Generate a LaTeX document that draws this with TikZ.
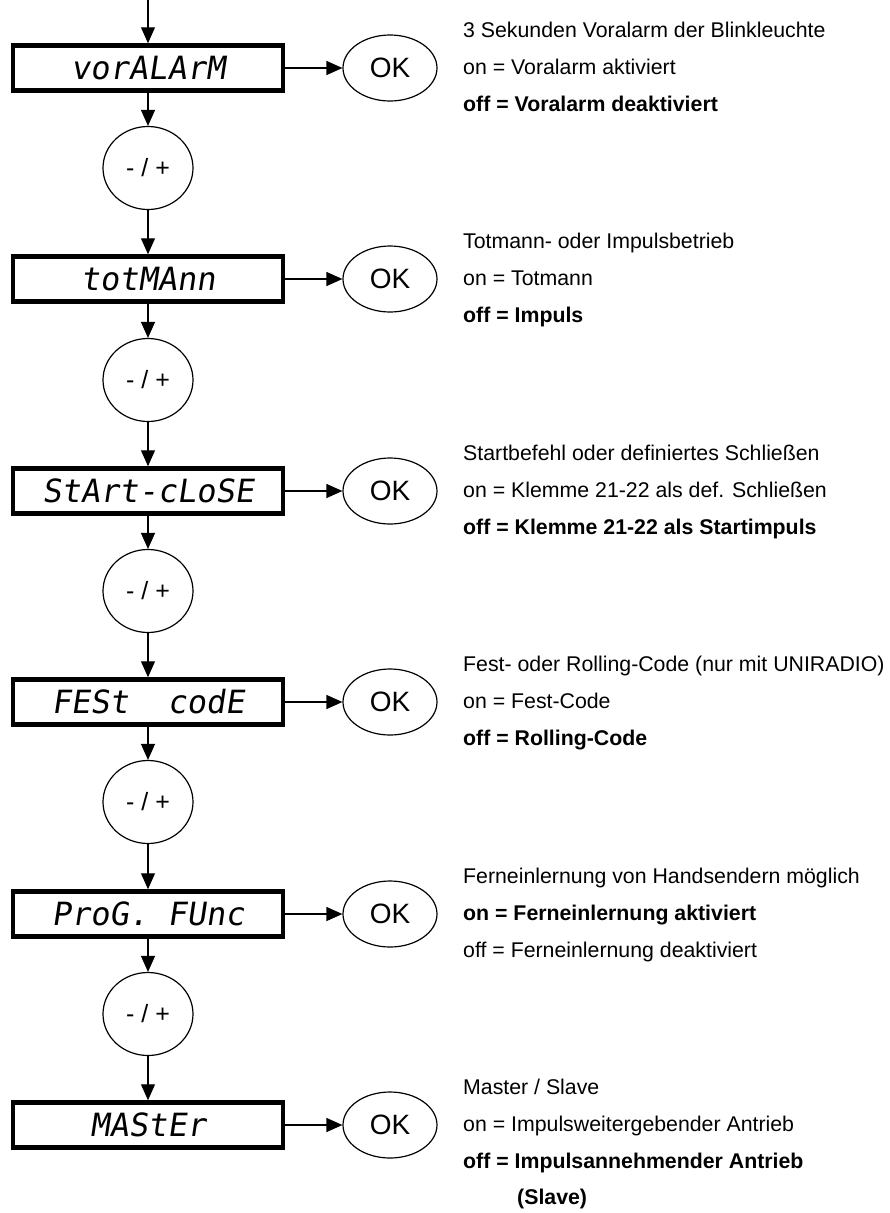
\documentclass[tikz,border=0pt]{standalone}
\usepackage{fontspec}
\setmainfont{Liberation Sans}
\newfontfamily\lcdfont[FakeSlant=0.15]{DejaVu Sans Mono}
\usetikzlibrary{arrows.meta, shapes.geometric}

\begin{document}
\begin{tikzpicture}[
    x=1pt, y=-1pt,
    arrow/.style={-{Triangle[length=16pt, width=14pt]}, line width=1.2pt},
    display/.style={draw, line width=4.5pt, minimum width=270pt, minimum height=45pt,
        inner sep=0pt, font={\lcdfont\fontsize{32}{32}\selectfont}},
    key/.style={draw, ellipse, line width=1.2pt, inner sep=0pt},
    okkey/.style={key, minimum width=94pt, minimum height=66pt,
        font={\fontsize{28}{30}\selectfont}},
    pmkey/.style={key, minimum width=90pt, minimum height=83pt,
        font={\fontsize{25}{30}\selectfont}},
    info/.style={anchor=base west, inner sep=0pt, font={\fontsize{21.3}{25}\selectfont}},
    infob/.style={info, font={\fontsize{21.3}{25}\selectfont\bfseries}}
]
    \useasboundingbox (0,0) rectangle (889,1213);

    % Voralarm
    \coordinate (start) at (148,0);
    \node[display] (d1) at (148,68) {vorALArM};
    \node[okkey] (ok1) at (390,68) {OK};
    \draw[arrow] (start) -- (d1);
    \draw[arrow] (d1) -- (ok1);
    \node[info] (t1a) at (463,37) {3 Sekunden Voralarm der Blinkleuchte};
    \node[info] (t1b) at (463,74) {on = Voralarm aktiviert};
    \node[infob] (t1c) at (463,111.5) {off = Voralarm deaktiviert};
    \node[pmkey] (pm1) at (148,168) {- / +};
    \draw[arrow] (d1) -- (pm1);

    % Totmann
    \node[display] (d2) at (148,279) {totMAnn};
    \node[okkey] (ok2) at (390,279) {OK};
    \draw[arrow] (pm1) -- (d2);
    \draw[arrow] (d2) -- (ok2);
    \node[info] (t2a) at (463,248) {Totmann- oder Impulsbetrieb};
    \node[info] (t2b) at (463,285) {on = Totmann};
    \node[infob] (t2c) at (463,322.5) {off = Impuls};
    \node[pmkey] (pm2) at (148,380) {- / +};
    \draw[arrow] (d2) -- (pm2);

    % Start / close
    \node[display] (d3) at (148,491) {StArt-cLoSE};
    \node[okkey] (ok3) at (390,491) {OK};
    \draw[arrow] (pm2) -- (d3);
    \draw[arrow] (d3) -- (ok3);
    \node[info] (t3a) at (463,460) {Startbefehl oder definiertes Schließen};
    \node[info] (t3b) at (463,497) {on = Klemme 21-22 als def. Schließen};
    \node[infob] (t3c) at (463,534.5) {off = Klemme 21-22 als Startimpuls};
    \node[pmkey] (pm3) at (148,591) {- / +};
    \draw[arrow] (d3) -- (pm3);

    % Fest-Code
    \node[display] (d4) at (148,702) {FESt~~codE};
    \node[okkey] (ok4) at (390,702) {OK};
    \draw[arrow] (pm3) -- (d4);
    \draw[arrow] (d4) -- (ok4);
    \node[info] (t4a) at (463,671) {Fest- oder Rolling-Code (nur mit UNIRADIO)};
    \node[info] (t4b) at (463,708) {on = Fest-Code};
    \node[infob] (t4c) at (463,745.5) {off = Rolling-Code};
    \node[pmkey] (pm4) at (148,802) {- / +};
    \draw[arrow] (d4) -- (pm4);

    % Ferneinlernung
    \node[display] (d5) at (148,914) {ProG.~FUnc};
    \node[okkey] (ok5) at (390,914) {OK};
    \draw[arrow] (pm4) -- (d5);
    \draw[arrow] (d5) -- (ok5);
    \node[info] (t5a) at (463,883) {Ferneinlernung von Handsendern möglich};
    \node[infob] (t5b) at (463,920) {on = Ferneinlernung aktiviert};
    \node[info] (t5c) at (463,957.5) {off = Ferneinlernung deaktiviert};
    \node[pmkey] (pm5) at (148,1014) {- / +};
    \draw[arrow] (d5) -- (pm5);

    % Master / Slave
    \node[display] (d6) at (148,1125) {MAStEr};
    \node[okkey] (ok6) at (390,1125) {OK};
    \draw[arrow] (pm5) -- (d6);
    \draw[arrow] (d6) -- (ok6);
    \node[info] (t6a) at (463,1094) {Master / Slave};
    \node[info] (t6b) at (463,1131) {on = Impulsweitergebender Antrieb};
    \node[infob] (t6c) at (463,1168.5) {off = Impulsannehmender Antrieb};
    \node[infob] (t6d) at (517,1204) {(Slave)};

\end{tikzpicture}
\end{document}
